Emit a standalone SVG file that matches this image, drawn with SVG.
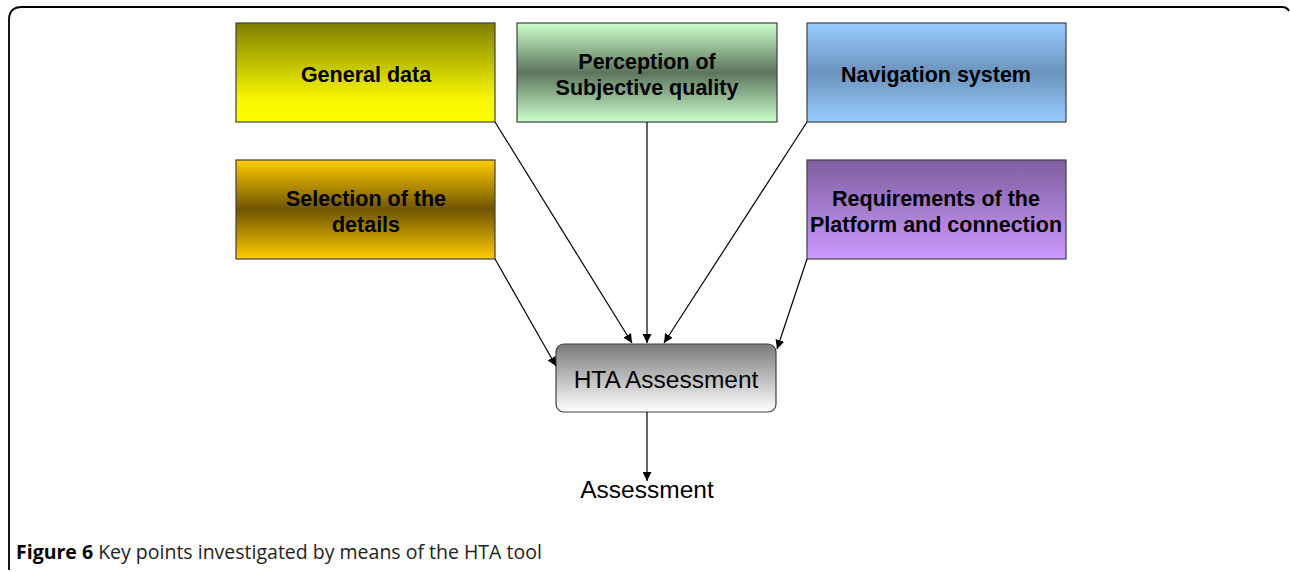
<svg xmlns="http://www.w3.org/2000/svg" width="1290" height="572" viewBox="0 0 1290 572">
<defs>
<style>
.box{stroke:#404040;stroke-width:1.2}
.lbl{font-family:"Liberation Sans",Arial,sans-serif;font-weight:bold;font-size:21.5px;fill:#000;text-anchor:middle}
.plain{font-family:"Liberation Sans",Arial,sans-serif;font-size:24.5px;fill:#000;text-anchor:middle}
.conn line{stroke:#000;stroke-width:1.2;marker-end:url(#ah)}
.cap{font-family:"Open Sans","Noto Sans",sans-serif;font-size:19.5px;fill:#222}
</style>
<marker id="ah" viewBox="0 0 10 10" refX="10" refY="5" markerWidth="9" markerHeight="9" markerUnits="userSpaceOnUse" orient="auto">
<path d="M0,0 L10,5 L0,10 z" fill="#000"/>
</marker>
<linearGradient id="gYellow" x1="0" y1="0" x2="0" y2="1">
<stop offset="0" stop-color="#7f7f00"/><stop offset="0.75" stop-color="#f5f500"/><stop offset="1" stop-color="#ffff00"/>
</linearGradient>
<linearGradient id="gGold" x1="0" y1="0" x2="0" y2="1">
<stop offset="0" stop-color="#ffcc00"/><stop offset="0.5" stop-color="#6f5400"/><stop offset="1" stop-color="#ffcc00"/>
</linearGradient>
<linearGradient id="gGreen" x1="0" y1="0" x2="0" y2="1">
<stop offset="0" stop-color="#ccffcc"/><stop offset="0.5" stop-color="#5c755c"/><stop offset="1" stop-color="#ccffcc"/>
</linearGradient>
<linearGradient id="gBlue" x1="0" y1="0" x2="0" y2="1">
<stop offset="0" stop-color="#99ccff"/><stop offset="0.5" stop-color="#6b93bd"/><stop offset="1" stop-color="#99ccff"/>
</linearGradient>
<linearGradient id="gPurple" x1="0" y1="0" x2="0" y2="1">
<stop offset="0" stop-color="#7f5f9f"/><stop offset="1" stop-color="#cc99ff"/>
</linearGradient>
<linearGradient id="gGray" x1="0" y1="0" x2="0" y2="1">
<stop offset="0" stop-color="#7a7a7a"/><stop offset="1" stop-color="#ffffff"/>
</linearGradient>
</defs>
<rect width="1290" height="572" fill="#fff"/>
<path d="M9,570 Q9,566 9,560 L9,20 Q9,7 22,7 L1282,7 Q1287,7 1289,11" fill="none" stroke="#000" stroke-width="1.8"/>

<g id="general-data">
<rect class="box" x="236" y="23" width="259" height="99" fill="url(#gYellow)"/>
<text class="lbl" x="366" y="82">General data</text>
</g>
<g id="perception">
<rect class="box" x="517" y="23" width="260" height="99" fill="url(#gGreen)"/>
<text class="lbl" x="647" y="69">Perception of</text>
<text class="lbl" x="647" y="95">Subjective quality</text>
</g>
<g id="navigation">
<rect class="box" x="807" y="23" width="259" height="99" fill="url(#gBlue)"/>
<text class="lbl" x="936" y="82">Navigation system</text>
</g>
<g id="selection">
<rect class="box" x="236" y="160" width="259" height="99" fill="url(#gGold)"/>
<text class="lbl" x="366" y="206">Selection of the</text>
<text class="lbl" x="366" y="232">details</text>
</g>
<g id="requirements">
<rect class="box" x="807" y="160" width="259" height="99" fill="url(#gPurple)"/>
<text class="lbl" x="936" y="206">Requirements of the</text>
<text class="lbl" x="936" y="232">Platform and connection</text>
</g>
<g id="hta">
<rect class="box" x="556" y="344" width="220" height="68" rx="8" ry="8" fill="url(#gGray)"/>
<text class="plain" x="666" y="388">HTA Assessment</text>
</g>
<g id="assessment">
<text class="plain" x="647" y="498">Assessment</text>
</g>

<g id="connectors" class="conn">
<line x1="495" y1="122" x2="632" y2="343"/>
<line x1="647" y1="122" x2="647" y2="343"/>
<line x1="807" y1="122" x2="664" y2="343"/>
<line x1="495" y1="259" x2="556" y2="366"/>
<line x1="807" y1="259" x2="777" y2="349"/>
<line x1="647" y1="412" x2="647" y2="481"/>
</g>

<g id="caption">
<text class="cap" x="16" y="559"><tspan font-weight="bold" fill="#000">Figure 6</tspan> Key points investigated by means of the HTA tool</text>
</g>
</svg>
